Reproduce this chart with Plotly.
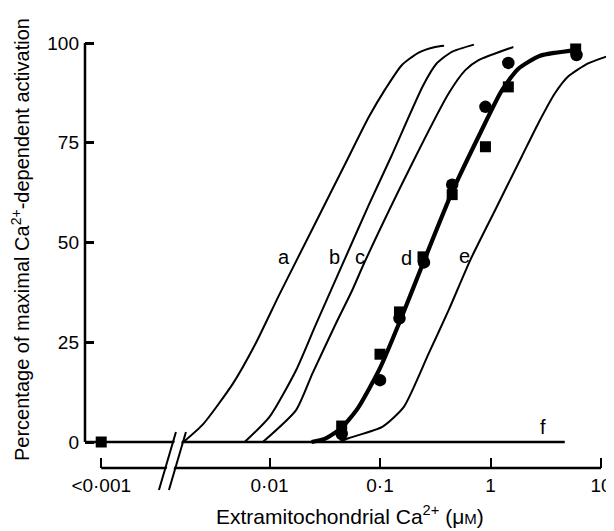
import numpy as np
import plotly.graph_objects as go

# ---------------- data (concentration in µM, activation in %) ----------------
LT_POS = 0.0003          # plotting position used for the "<0·001" category

curve_a_x = [0.00166, 0.00251, 0.00468, 0.00759, 0.0123, 0.0251, 0.0490, 0.0794, 0.112, 0.158, 0.224, 0.316, 0.380]
curve_a_y = [0, 4.5, 14.7, 25.0, 37.0, 54.0, 70.0, 81.5, 88.5, 94.5, 97.6, 99.0, 99.3]

curve_b_x = [0.00596, 0.0100, 0.0174, 0.0263, 0.0457, 0.0794, 0.126, 0.245, 0.324, 0.447, 0.708]
curve_b_y = [0, 6.3, 18.0, 29.5, 44.5, 59.5, 71.5, 89.3, 94.8, 97.8, 99.6]

curve_c_x = [0.0087, 0.0174, 0.0245, 0.0399, 0.0562, 0.0718, 0.1954, 0.419, 0.592, 0.78, 1.61]
curve_c_y = [0, 8.0, 17.2, 29.7, 38.1, 44.8, 69.8, 87.4, 93.2, 95.7, 99.0]

curve_d_x = [0.0240, 0.0316, 0.0447, 0.0631, 0.100, 0.158, 0.251, 0.447, 0.794, 1.259, 1.778, 2.818, 6.03]
curve_d_y = [0, 0.8, 3.5, 8.5, 18.5, 31.5, 45.5, 62.5, 77.0, 88.0, 93.5, 96.8, 98.2]

curve_e_x = [0.0428, 0.0526, 0.105, 0.1644, 0.276, 0.419, 0.656, 1.10, 1.914, 2.71, 3.83, 5.04, 7.64, 12.4]
curve_e_y = [0, 1.0, 3.8, 8.8, 22.2, 33.1, 45.6, 58.1, 71.5, 79.9, 87.4, 91.6, 94.9, 97.0]

curve_f_x = [LT_POS, 4.7]
curve_f_y = [0, 0]

circles_x = [0.045, 0.10, 0.15, 0.25, 0.45, 0.90, 1.45, 6.0]
circles_y = [2.0, 15.5, 31.0, 45.0, 64.5, 84.0, 95.0, 97.0]

squares_x = [LT_POS, 0.045, 0.10, 0.15, 0.245, 0.45, 0.90, 1.45, 5.9]
squares_y = [0, 4.0, 22.0, 32.6, 46.4, 62.0, 74.0, 89.0, 98.5]

labels = ["a", "b", "c", "d", "e", "f"]
labels_x = [0.01365, 0.0386, 0.066, 0.175, 0.583, 3.0]
labels_y = [46.4, 46.4, 46.4, 46.1, 46.6, 3.8]

tick_conc = [LT_POS, 0.01, 0.1, 1, 10]
tick_text = ["<0·001", "0·01", "0·1", "1", "10"]
y_ticks = [0, 25, 50, 75, 100]

BREAK_POS = 0.00126      # where the axis break is drawn

# ---------------- layout geometry (page pixels) ----------------
BODY = 8                 # default page margin of the html body
W, H = 614, 531
ML, MR, MT, MB = 85, 0, 40, 63          # plot area in page pixels
PW, PH = W - ML - MR, H - MT - MB
DEC = 110.5                              # px per decade
XR = [1 - (601 - ML) / DEC, 1 + (W - 601) / DEC]
YR = [-26 / 3.99, 100 + 3 / 3.99]

FONT = "Liberation Sans, Arial, sans-serif"
lg = np.log10


def px(v):     # log10 value -> paper x
    return (v - XR[0]) / (XR[1] - XR[0])


def py(v):     # data y -> paper y
    return (v - YR[0]) / (YR[1] - YR[0])


fig = go.Figure()

thin = dict(color="black", width=2, shape="spline", smoothing=0.6)
for cx, cy in [(curve_a_x, curve_a_y), (curve_b_x, curve_b_y),
               (curve_c_x, curve_c_y), (curve_e_x, curve_e_y)]:
    fig.add_trace(go.Scatter(x=lg(cx), y=cy, mode="lines", line=thin,
                             hoverinfo="skip"))

fig.add_trace(go.Scatter(x=lg(curve_d_x), y=curve_d_y, mode="lines",
                         line=dict(color="black", width=4.2, shape="spline", smoothing=0.6)))
fig.add_trace(go.Scatter(x=lg(curve_f_x), y=curve_f_y, mode="lines",
                         line=dict(color="black", width=2.5)))

fig.add_trace(go.Scatter(x=lg(circles_x), y=circles_y, mode="markers", cliponaxis=False,
                         marker=dict(symbol="circle", size=12.5, color="black")))
fig.add_trace(go.Scatter(x=lg(squares_x), y=squares_y, mode="markers", cliponaxis=False,
                         marker=dict(symbol="square", size=11, color="black")))

# curve labels
for t, lx, ly in zip(labels, labels_x, labels_y):
    fig.add_annotation(x=lg(lx), y=ly, text=t, showarrow=False,
                       xanchor="center", yanchor="middle",
                       font=dict(family=FONT, size=20, color="black"))

# axis titles
fig.add_annotation(xref="paper", yref="paper", x=(350 - ML) / PW, y=(468 - 515) / PH,
                   xanchor="center", yanchor="middle",
                   text="Extramitochondrial Ca<sup>2+</sup> (μ<span style='font-size:15px'>M</span>)",
                   showarrow=False, font=dict(family=FONT, size=21, color="black"))
fig.add_annotation(xref="paper", yref="paper", x=(20 - ML) / PW, y=(468 - 240) / PH,
                   xanchor="center", yanchor="middle",
                   text="Percentage of maximal Ca<sup>2+</sup>-dependent activation",
                   textangle=-90, showarrow=False,
                   font=dict(family=FONT, size=20, color="black"))

# axis lines (drawn as shapes so they can stop where the original stops)
shapes = []
x_lt = px(lg(LT_POS))
shapes.append(dict(type="line", xref="paper", yref="paper", x0=0, x1=0,
                   y0=py(0), y1=py(100), line=dict(color="black", width=2.5)))
shapes.append(dict(type="line", xref="paper", yref="paper", x0=0, x1=x_lt,
                   y0=py(0), y1=py(0), line=dict(color="black", width=2.5)))
shapes.append(dict(type="line", xref="paper", yref="paper", x0=x_lt, x1=px(lg(10)),
                   y0=0, y1=0, line=dict(color="black", width=2.5)))

# break marks
bx = px(lg(BREAK_POS))
dxp = 1 / PW
dyp = 1 / PH
g0, g1 = -4, 32
s = 17 / 58


def slash_x(base, ypix):
    return base + (ypix + 22) * s * dxp


b1 = bx - 5 * dxp - (22 + 20) * s * dxp / 2
b2 = b1 + 10 * dxp
path = "M {:.5f},{:.5f} L {:.5f},{:.5f} L {:.5f},{:.5f} L {:.5f},{:.5f} Z".format(
    slash_x(b1, g0) + 1.5 * dxp, g0 * dyp,
    slash_x(b1, g1) + 1.5 * dxp, g1 * dyp,
    slash_x(b2, g1) - 1.5 * dxp, g1 * dyp,
    slash_x(b2, g0) - 1.5 * dxp, g0 * dyp)
shapes.append(dict(type="path", xref="paper", yref="paper", path=path,
                   fillcolor="white", line=dict(width=0)))
for b in (b1, b2):
    shapes.append(dict(type="line", xref="paper", yref="paper",
                       x0=slash_x(b, -22), y0=-22 * dyp,
                       x1=slash_x(b, 36), y1=36 * dyp,
                       line=dict(color="black", width=2)))

fig.update_layout(
    width=W - BODY, height=H - BODY,
    margin=dict(l=ML - BODY, r=MR, t=MT - BODY, b=MB, pad=0, autoexpand=False),
    paper_bgcolor="white", plot_bgcolor="white",
    showlegend=False,
    shapes=shapes,
    font=dict(family=FONT, size=19, color="black"),
    xaxis=dict(range=XR, tickvals=list(lg(tick_conc)), ticktext=tick_text,
               ticks="inside", ticklen=10, tickwidth=2, tickcolor="black",
               showline=False, showgrid=False, zeroline=False, automargin=False,
               ticklabelstandoff=4,
               tickfont=dict(family=FONT, size=19, color="black")),
    yaxis=dict(range=YR, tickvals=y_ticks, ticks="inside", ticklen=9, tickwidth=2.5,
               tickcolor="black", showline=False, showgrid=False, zeroline=False,
               automargin=False, ticklabelstandoff=5,
               tickfont=dict(family=FONT, size=19, color="black")),
)

fig.write_html("out.html")
